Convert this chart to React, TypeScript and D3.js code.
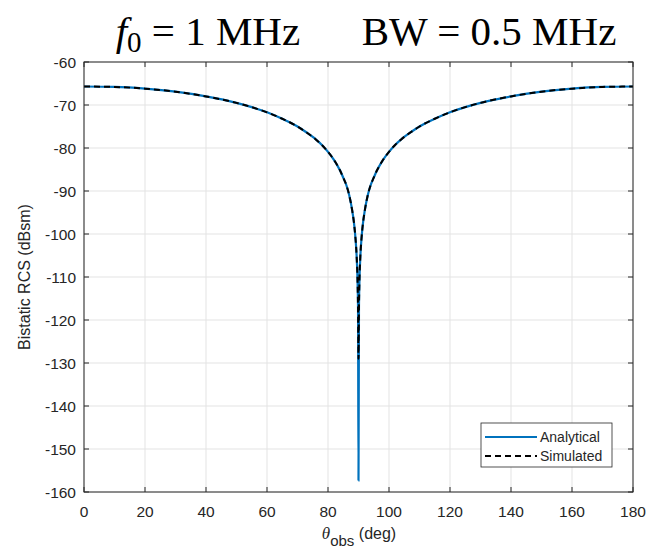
import React from "react";
import * as d3 from "d3";

const thetaDeg = [0, 10, 20, 30, 40, 50, 55, 60, 65, 70, 73, 76, 78, 80, 82, 84, 85, 86, 87, 88, 88.5, 89, 89.4, 89.7, 89.85, 90,
  90.15, 90.3, 90.6, 91, 91.5, 92, 93, 94, 95, 96, 98, 100, 102, 104, 107, 110, 115, 120, 125, 130, 140, 150, 160, 170, 180];
const analyticalDb = [-65.7, -65.8, -66.2, -66.9, -68.0, -69.5, -70.5, -71.7, -73.2, -75.0, -76.4, -78.0, -79.3, -80.9, -82.8, -85.3, -86.9, -88.6, -91.1, -94.8, -97.3, -100.9, -105.3, -111.3, -117.3, -157.3,
  -117.3, -111.3, -105.3, -100.9, -97.3, -94.8, -91.1, -88.6, -86.9, -85.3, -82.8, -80.9, -79.3, -78.0, -76.4, -75.0, -73.2, -71.7, -70.5, -69.5, -68.0, -66.9, -66.2, -65.8, -65.7];
const simulatedDb = [-65.7, -65.8, -66.2, -66.9, -68.0, -69.5, -70.5, -71.7, -73.2, -75.0, -76.4, -78.0, -79.3, -80.9, -82.8, -85.3, -86.9, -88.6, -91.1, -94.8, -97.3, -100.9, -105.3, -111.3, -117.5, -129.0,
  -117.5, -111.3, -105.3, -100.9, -97.3, -94.8, -91.1, -88.6, -86.9, -85.3, -82.8, -80.9, -79.3, -78.0, -76.4, -75.0, -73.2, -71.7, -70.5, -69.5, -68.0, -66.9, -66.2, -65.8, -65.7];

const xTicks = [0, 20, 40, 60, 80, 100, 120, 140, 160, 180];
const yTicks = [-60, -70, -80, -90, -100, -110, -120, -130, -140, -150, -160];
const seriesNames = ["Analytical", "Simulated"];

const W = 648, H = 555;
const L = 84, R = 633, T = 62, B = 492;
const sans = "'Liberation Sans', Arial, sans-serif";
const serif = "'Liberation Serif', 'DejaVu Serif', serif";
const axisColor = "#262626";
const blue = "#0072BD";

export default function App() {
  const x = d3.scaleLinear().domain([0, 180]).range([L, R]);
  const y = d3.scaleLinear().domain([-160, -60]).range([B, T]);
  const line = d3.line<number>()
    .x((_, i) => x(thetaDeg[i]))
    .y((d) => y(d))
    .curve(d3.curveMonotoneX);

  return (
    <svg width={W} height={H} style={{ position: "absolute", left: 0, top: 0, background: "#fff" }}>
      <rect x={0} y={0} width={W} height={H} fill="#fff" />
      {/* title */}
      <text x={366} y={45} textAnchor="middle" fontFamily={serif} fontSize={41} fill="#000">
        <tspan fontStyle="italic">f</tspan>
        <tspan fontSize={29} dy={7}>0</tspan>
        <tspan dy={-7}>{" = 1 MHz\u2003\u2002BW = 0.5 MHz"}</tspan>
      </text>
      {/* grid */}
      {xTicks.map((t) => (
        <line key={"gx" + t} x1={x(t)} x2={x(t)} y1={T} y2={B} stroke="#e3e3e3" strokeWidth={1} />
      ))}
      {yTicks.map((t) => (
        <line key={"gy" + t} x1={L} x2={R} y1={y(t)} y2={y(t)} stroke="#e3e3e3" strokeWidth={1} />
      ))}
      {/* data */}
      <path d={line(analyticalDb) || ""} fill="none" stroke={blue} strokeWidth={2.2} />
      <path d={line(simulatedDb) || ""} fill="none" stroke="#000" strokeWidth={2} strokeDasharray="6,4" />
      {/* frame */}
      <rect x={L} y={T} width={R - L} height={B - T} fill="none" stroke={axisColor} strokeWidth={1} />
      {xTicks.map((t) => (
        <g key={"tx" + t}>
          <line x1={x(t)} x2={x(t)} y1={B} y2={B - 5} stroke={axisColor} />
          <line x1={x(t)} x2={x(t)} y1={T} y2={T + 5} stroke={axisColor} />
          <text x={x(t)} y={B + 25} textAnchor="middle" fontFamily={sans} fontSize={15.5} fill={axisColor}>{t}</text>
        </g>
      ))}
      {yTicks.map((t) => (
        <g key={"ty" + t}>
          <line x1={L} x2={L + 5} y1={y(t)} y2={y(t)} stroke={axisColor} />
          <line x1={R} x2={R - 5} y1={y(t)} y2={y(t)} stroke={axisColor} />
          <text x={L - 8} y={y(t) + 5.5} textAnchor="end" fontFamily={sans} fontSize={15.5} fill={axisColor}>{t}</text>
        </g>
      ))}
      {/* axis labels */}
      <text x={359} y={539} textAnchor="middle" fontFamily={sans} fontSize={16} fill={axisColor}>
        <tspan fontFamily={serif} fontStyle="italic" fontSize={17}>θ</tspan>
        <tspan fontSize={15} dy={7}>obs</tspan>
        <tspan dy={-7}>{" (deg)"}</tspan>
      </text>
      <text transform={`translate(30,${(T + B) / 2}) rotate(-90)`} textAnchor="middle" fontFamily={sans} fontSize={16} fill={axisColor}>
        Bistatic RCS (dBsm)
      </text>
      {/* legend */}
      <rect x={481} y={423} width={131} height={44} fill="#fff" stroke={axisColor} strokeWidth={0.8} />
      <line x1={485} x2={537} y1={437} y2={437} stroke={blue} strokeWidth={2.2} />
      <line x1={485} x2={537} y1={456} y2={456} stroke="#000" strokeWidth={2} strokeDasharray="6,4" />
      <text x={540} y={442} fontFamily={sans} fontSize={14} fill={axisColor}>{seriesNames[0]}</text>
      <text x={540} y={461} fontFamily={sans} fontSize={14} fill={axisColor}>{seriesNames[1]}</text>
    </svg>
  );
}
